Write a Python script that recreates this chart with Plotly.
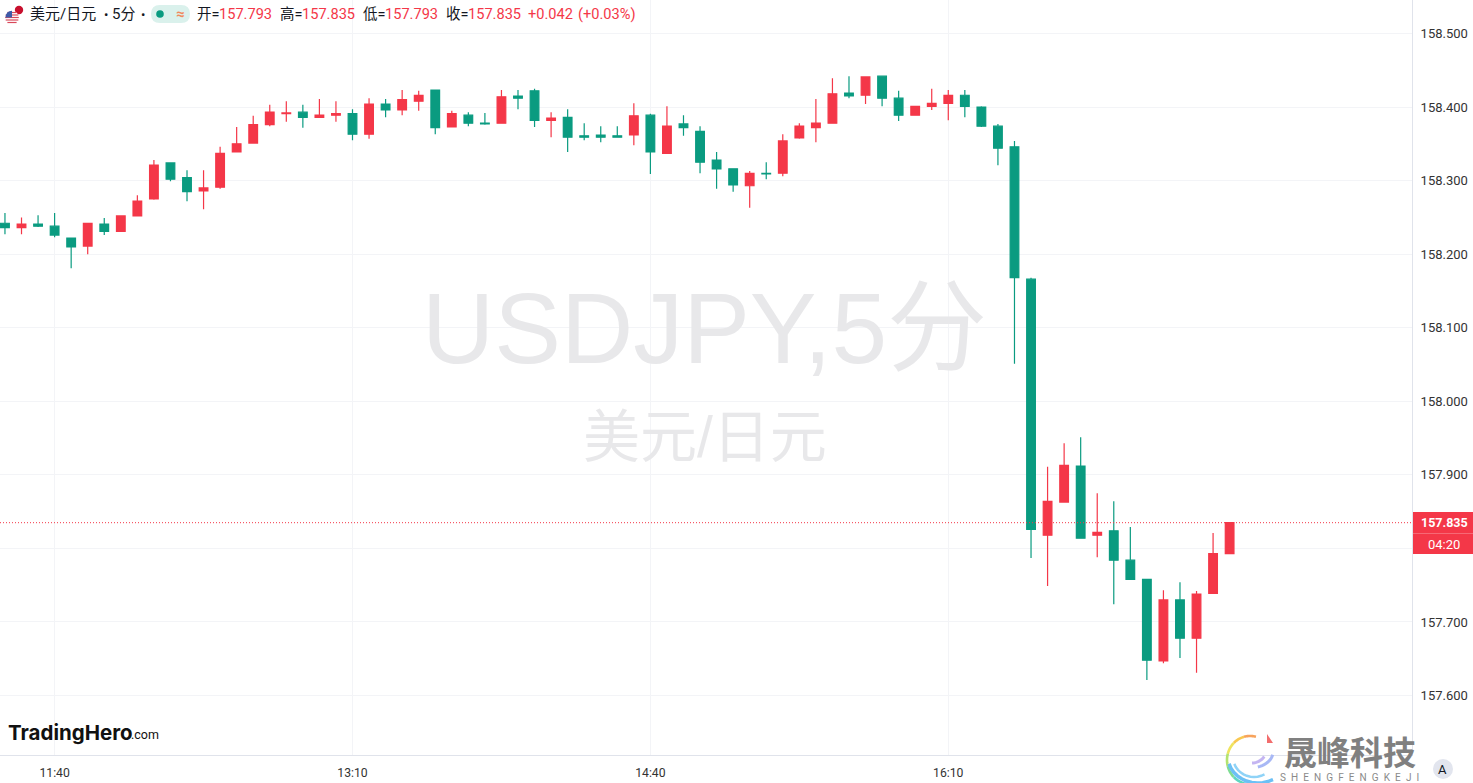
import math
import plotly.graph_objects as go

times = ["11:25","11:30","11:35","11:40","11:45","11:50","11:55","12:00","12:05","12:10","12:15","12:20","12:25","12:30","12:35","12:40","12:45","12:50","12:55","13:00","13:05","13:10","13:15","13:20","13:25","13:30","13:35","13:40","13:45","13:50","13:55","14:00","14:05","14:10","14:15","14:20","14:25","14:30","14:35","14:40","14:45","14:50","14:55","15:00","15:05","15:10","15:15","15:20","15:25","15:30","15:35","15:40","15:45","15:50","15:55","16:00","16:05","16:10","16:15","16:20","16:25","16:30","16:35","16:40","16:45","16:50","16:55","17:00","17:05","17:10","17:15","17:20","17:25","17:30","17:35"]
opens = [158.242,158.236,158.241,158.238,158.222,158.211,158.241,158.231,158.252,158.275,158.324,158.304,158.286,158.291,158.339,158.351,158.376,158.391,158.393,158.386,158.389,158.391,158.363,158.404,158.396,158.408,158.423,158.373,158.389,158.378,158.378,158.415,158.422,158.382,158.386,158.361,158.362,158.361,158.362,158.389,158.337,158.377,158.367,158.328,158.316,158.293,158.310,158.310,158.358,158.372,158.378,158.419,158.416,158.442,158.412,158.389,158.401,158.405,158.416,158.400,158.374,158.346,158.166,157.818,157.863,157.912,157.818,157.824,157.784,157.758,157.647,157.730,157.678,157.739,157.793]
highs = [158.256,158.250,158.253,158.256,158.222,158.242,158.249,158.253,158.280,158.328,158.325,158.314,158.314,158.346,158.373,158.388,158.403,158.408,158.403,158.411,158.408,158.397,158.412,158.411,158.423,158.422,158.423,158.395,158.393,158.392,158.423,158.423,158.425,158.393,158.397,158.378,158.374,158.374,158.405,158.391,158.401,158.389,158.374,158.339,158.316,158.313,158.325,158.363,158.378,158.411,158.439,158.442,158.442,158.442,158.422,158.401,158.425,158.423,158.423,158.401,158.377,158.354,158.168,157.911,157.943,157.951,157.875,157.864,157.829,157.758,157.743,157.754,157.742,157.821,157.835]
lows = [158.227,158.227,158.237,158.223,158.181,158.200,158.226,158.230,158.252,158.274,158.299,158.272,158.261,158.289,158.339,158.350,158.374,158.380,158.372,158.386,158.380,158.355,158.357,158.386,158.389,158.395,158.363,158.373,158.374,158.376,158.378,158.397,158.373,158.359,158.339,158.355,158.352,158.359,158.348,158.309,158.337,158.361,158.310,158.289,158.285,158.263,158.302,158.306,158.357,158.352,158.378,158.412,158.404,158.401,158.381,158.388,158.396,158.382,158.386,158.373,158.321,158.051,157.787,157.749,157.863,157.813,157.788,157.724,157.757,157.621,157.644,157.651,157.631,157.739,157.793]
closes = [158.236,158.241,158.238,158.226,158.210,158.242,158.231,158.252,158.272,158.321,158.302,158.285,158.290,158.337,158.350,158.376,158.393,158.392,158.386,158.389,158.391,158.363,158.404,158.396,158.410,158.416,158.372,158.391,158.378,158.377,158.414,158.412,158.382,158.385,158.359,158.359,158.359,158.359,158.388,158.339,158.374,158.372,158.325,158.316,158.294,158.310,158.309,158.354,158.374,158.378,158.418,158.415,158.441,158.412,158.389,158.401,158.405,158.416,158.401,158.374,158.344,158.168,157.826,157.864,157.913,157.814,157.822,157.784,157.758,157.648,157.730,157.678,157.738,157.793,157.835]

price_ticks = [157.6,157.7,157.8,157.9,158.0,158.1,158.2,158.3,158.4,158.5]
time_ticks = ["11:40","13:10","14:40","16:10"]
last_price = 157.835
header_values = ["157.793","157.835","157.793","157.835"]

UP = "#F43748"
DOWN = "#0A9B80"
GRID = "#F3F4F7"
AXIS = "#E0E3EB"
TXT = "#131722"
W, H = 1473, 783
PW, PH = 1412, 755
SANS = "Roboto, 'Noto Sans CJK SC', sans-serif"
WM = "'Liberation Sans', 'Noto Sans CJK SC', sans-serif"


def px(x):
    return x / PW


def py(y):
    return 1 - y / PH


def text(x, y, s, size=13, color=TXT, anchor="left", family=SANS):
    return dict(x=px(x), y=py(y), xref="paper", yref="paper", text=s, showarrow=False,
                xanchor=anchor, yanchor="middle", font=dict(size=size, color=color, family=family),
                align=anchor, borderpad=0, borderwidth=0)


def rect(x0, y0, x1, y1, fill):
    return dict(type="rect", xref="paper", yref="paper", x0=px(x0), x1=px(x1), y0=py(y0), y1=py(y1),
                fillcolor=fill, line=dict(width=0))


def circle(cx, cy, r, fill):
    return dict(type="circle", xref="paper", yref="paper", x0=px(cx - r), x1=px(cx + r),
                y0=py(cy - r), y1=py(cy + r), fillcolor=fill, line=dict(width=0))


def polyline(pts, color, width):
    d = "M " + " L ".join(f"{px(a):.5f} {py(b):.5f}" for a, b in pts)
    return dict(type="path", xref="paper", yref="paper", path=d, line=dict(color=color, width=width))


def arc(cx, cy, rx, ry, a0, a1, color, width):
    n = 10
    pts = []
    for j in range(n + 1):
        a = math.radians(a0 + (a1 - a0) * j / n)
        pts.append((cx + rx * math.cos(a), cy + ry * math.sin(a)))
    return polyline(pts, color, width)


shapes = []
shapes.append(dict(type="line", xref="paper", yref="y", x0=0, x1=1, y0=last_price, y1=last_price,
                   line=dict(color=UP, width=1, dash="1px 2px")))
shapes.append(rect(1413, 512, 1473, 554, UP))
shapes.append(rect(1413, 533, 1473, 533.8, "#F97A85"))

# flag
shapes.append(circle(19, 10, 6, "#FFFFFF"))
shapes.append(circle(19, 10, 4.2, "#C8102E"))
shapes.append(circle(12, 17.5, 6.8, "#FFFFFF"))
for yy in (12.5, 15, 17.5, 20, 22.5):
    half = math.sqrt(max(6.8 ** 2 - (yy - 17.5) ** 2, 0))
    shapes.append(polyline([(12 - half, yy), (12 + half, yy)], "#D9485A", 1.2))
shapes.append(dict(type="path", xref="paper", yref="paper",
                   path=f"M {px(5.4):.5f} {py(17.5):.5f} Q {px(6):.5f} {py(11):.5f} {px(12):.5f} {py(10.7):.5f} L {px(12):.5f} {py(17.5):.5f} Z",
                   fillcolor="#3D5AA8", line=dict(width=0)))

# status pill
pill = (f"M {px(160):.5f} {py(5):.5f} L {px(181):.5f} {py(5):.5f} Q {px(190):.5f} {py(5):.5f} {px(190):.5f} {py(14):.5f} "
        f"Q {px(190):.5f} {py(23):.5f} {px(181):.5f} {py(23):.5f} L {px(160):.5f} {py(23):.5f} "
        f"Q {px(151):.5f} {py(23):.5f} {px(151):.5f} {py(14):.5f} Q {px(151):.5f} {py(5):.5f} {px(160):.5f} {py(5):.5f} Z")
shapes.append(dict(type="path", xref="paper", yref="paper", path=pill, fillcolor="#DAF1EC", line=dict(width=0)))
shapes.append(circle(160, 14, 3.8, "#0A9B80"))

shapes.append(circle(1443, 769, 10, "#E2E5EE"))

# sheng feng logo swirl
sweep = ["#F7A35C", "#F9C851", "#EFE45F", "#B4E36E", "#7FDD93", "#5FD6C0", "#5CC9E8"]
start = -75
for c in sweep:
    shapes.append(arc(1250, 760, 23, 24, start, start - 30, c, 2.6))
    start -= 30
shapes.append(dict(type="path", xref="paper", yref="paper",
                   path=f"M {px(1267):.5f} {py(734):.5f} L {px(1273):.5f} {py(743):.5f} L {px(1267):.5f} {py(743):.5f} Z",
                   fillcolor="#F26D6D", line=dict(width=0)))
shapes.append(arc(1258, 757, 30, 26, 165, 60, "#6CC0F5", 3.5))
shapes.append(arc(1254, 757, 21, 20, 160, 60, "#8FD3F7", 2.5))
shapes.append(arc(1250, 752, 23, 16, 70, 10, "#A8B8F5", 3))
shapes.append(arc(1252, 745, 16, 18, 90, 40, "#C4B5F2", 3))

annotations = [
    text(422, 328, "USDJPY,5分", size=100, color="#E8E8EA", family=WM),
    text(705, 437, "美元/日元", size=57, color="#E8E8EA", anchor="center", family=WM),
    text(30, 14, "美元/日元", size=15),
    text(104, 14, "•", size=13),
    text(112, 14, "5分", size=15),
    text(141, 14, "•", size=13),
    text(181, 14, "<b>≈</b>", size=15, color="#F08A5D", anchor="center"),
]
for x_lab, lab, x_val, val in zip((197, 280, 363, 446), ("开=", "高=", "低=", "收="), (219, 302, 385, 468), header_values):
    annotations.append(text(x_lab, 14, lab, size=14.5))
    annotations.append(text(x_val, 14, val, size=14.6, color=UP))
annotations.append(text(528, 14, "+0.042", size=14.6, color=UP))
annotations.append(text(578, 14, "(+0.03%)", size=14.6, color=UP))
annotations.append(text(1444, 522, "<b>157.835</b>", size=12.5, color="#FFFFFF", anchor="center"))
annotations.append(text(1443.5, 544, "04:20", size=13, color="#FFFFFF", anchor="center"))
annotations.append(text(8, 732, "<b>TradingHero</b>", size=20.5, color="#111111", family="Inter, Lato, sans-serif"))
annotations.append(text(131, 734, ".com", size=12.5, color="#111111", family="Roboto, sans-serif"))
annotations.append(text(1350, 751, "<b>晟峰科技</b>", size=33, color="#808080", anchor="center", family="'Noto Sans CJK SC', sans-serif"))
annotations.append(text(1349, 777, "S\u2002H\u2002E\u2002N\u2002G\u2002F\u2002E\u2002N\u2002G\u2002K\u2002E\u2002J\u2002I", size=10, color="#8A8A8A", anchor="center", family="Roboto, sans-serif"))
annotations.append(text(1443, 769, "A", size=13, color="#131722", anchor="center"))

fig = go.Figure(go.Candlestick(
    x=times, open=opens, high=highs, low=lows, close=closes,
    increasing=dict(line=dict(color=UP, width=1.2), fillcolor=UP),
    decreasing=dict(line=dict(color=DOWN, width=1.2), fillcolor=DOWN),
    whiskerwidth=0, hoverinfo="skip", showlegend=False,
))

fig.update_layout(
    width=W, height=H, margin=dict(l=0, r=W - PW, t=0, b=H - PH),
    paper_bgcolor="#FFFFFF", plot_bgcolor="#FFFFFF", showlegend=False,
    boxgap=0.25, shapes=shapes, annotations=annotations,
    xaxis=dict(type="category", range=[-0.30, 85.02], rangeslider=dict(visible=False),
               tickmode="array", tickvals=time_ticks, ticktext=time_ticks, ticklen=0,
               ticklabelstandoff=6,
               showgrid=True, gridcolor=GRID, gridwidth=1, zeroline=False, showline=True,
               linecolor=AXIS, linewidth=1, tickfont=dict(size=12.2, color="#333333", family=SANS)),
    yaxis=dict(side="right", range=[157.5192, 158.5455], tickmode="array", tickvals=price_ticks,
               tickformat=".3f", ticklen=0, ticklabelstandoff=5,
               showgrid=True, gridcolor=GRID, gridwidth=1, zeroline=False, showline=True,
               linecolor=AXIS, linewidth=1, tickfont=dict(size=13, color="#333333", family=SANS)),
)

fig.write_html("out.html", post_script="document.body.style.margin='0';document.body.style.overflow='hidden';",
               config=dict(displayModeBar=False))
